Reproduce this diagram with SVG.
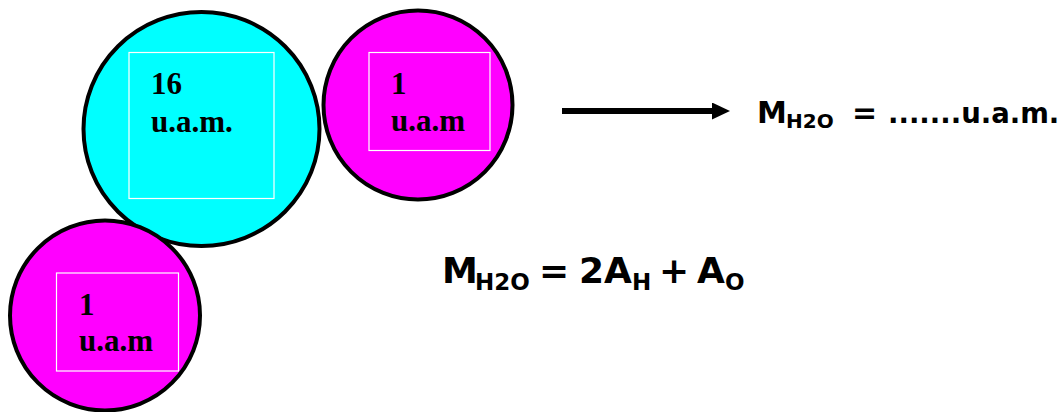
<svg xmlns="http://www.w3.org/2000/svg" width="1064" height="412" viewBox="0 0 1064 412">
<style>
.atom{stroke:#000;stroke-width:4}
.box{fill:none;stroke:#fff;stroke-width:1.2}
.lbl{font-family:"Liberation Serif","Times New Roman",serif;font-weight:bold;font-size:31px;fill:#000}
.f{font-family:"DejaVu Sans",Verdana,sans-serif;font-weight:bold;fill:#000}
</style>
<defs>
<marker id="ah" markerWidth="18" markerHeight="18" refX="0" refY="8.5" orient="auto" markerUnits="userSpaceOnUse">
<path d="M0,0 L18,8.5 L0,17 Z" fill="#000"/>
</marker>
</defs>
<g id="oxygen">
<ellipse class="atom" cx="201.5" cy="129" rx="118" ry="117" fill="#00ffff"/>
<rect class="box" x="129" y="52.5" width="145" height="146"/>
<text class="lbl" x="151" y="94">16</text>
<text class="lbl" x="151" y="132">u.a.m.</text>
</g>
<g id="hydrogen1">
<circle class="atom" cx="418" cy="105" r="94.5" fill="#ff00ff"/>
<rect class="box" x="369" y="52.5" width="121" height="98"/>
<text class="lbl" x="391" y="94">1</text>
<text class="lbl" x="391" y="131">u.a.m</text>
</g>
<g id="hydrogen2">
<circle class="atom" cx="105" cy="315.5" r="95" fill="#ff00ff"/>
<rect class="box" x="56.5" y="273" width="122" height="98"/>
<text class="lbl" x="79" y="315">1</text>
<text class="lbl" x="79" y="351">u.a.m</text>
</g>
<g id="connectors">
<line x1="562" y1="111" x2="712" y2="111" stroke="#000" stroke-width="6" marker-end="url(#ah)"/>
</g>
<g id="result">
<text class="f" y="123" font-size="30"><tspan x="757">M</tspan><tspan x="786" y="128" font-size="20">H2O</tspan><tspan x="852" y="123">=</tspan><tspan x="888" font-size="27.5">.......u.a.m.</tspan></text>
</g>
<g id="formula">
<text class="f" y="283" font-size="36"><tspan x="442">M</tspan><tspan x="475" y="290" font-size="23">H2O</tspan><tspan x="539" y="283">=</tspan><tspan x="579">2A</tspan><tspan x="632" y="290" font-size="23">H</tspan><tspan x="659" y="283">+</tspan><tspan x="697">A</tspan><tspan x="725" y="290" font-size="23">O</tspan></text>
</g>
</svg>
